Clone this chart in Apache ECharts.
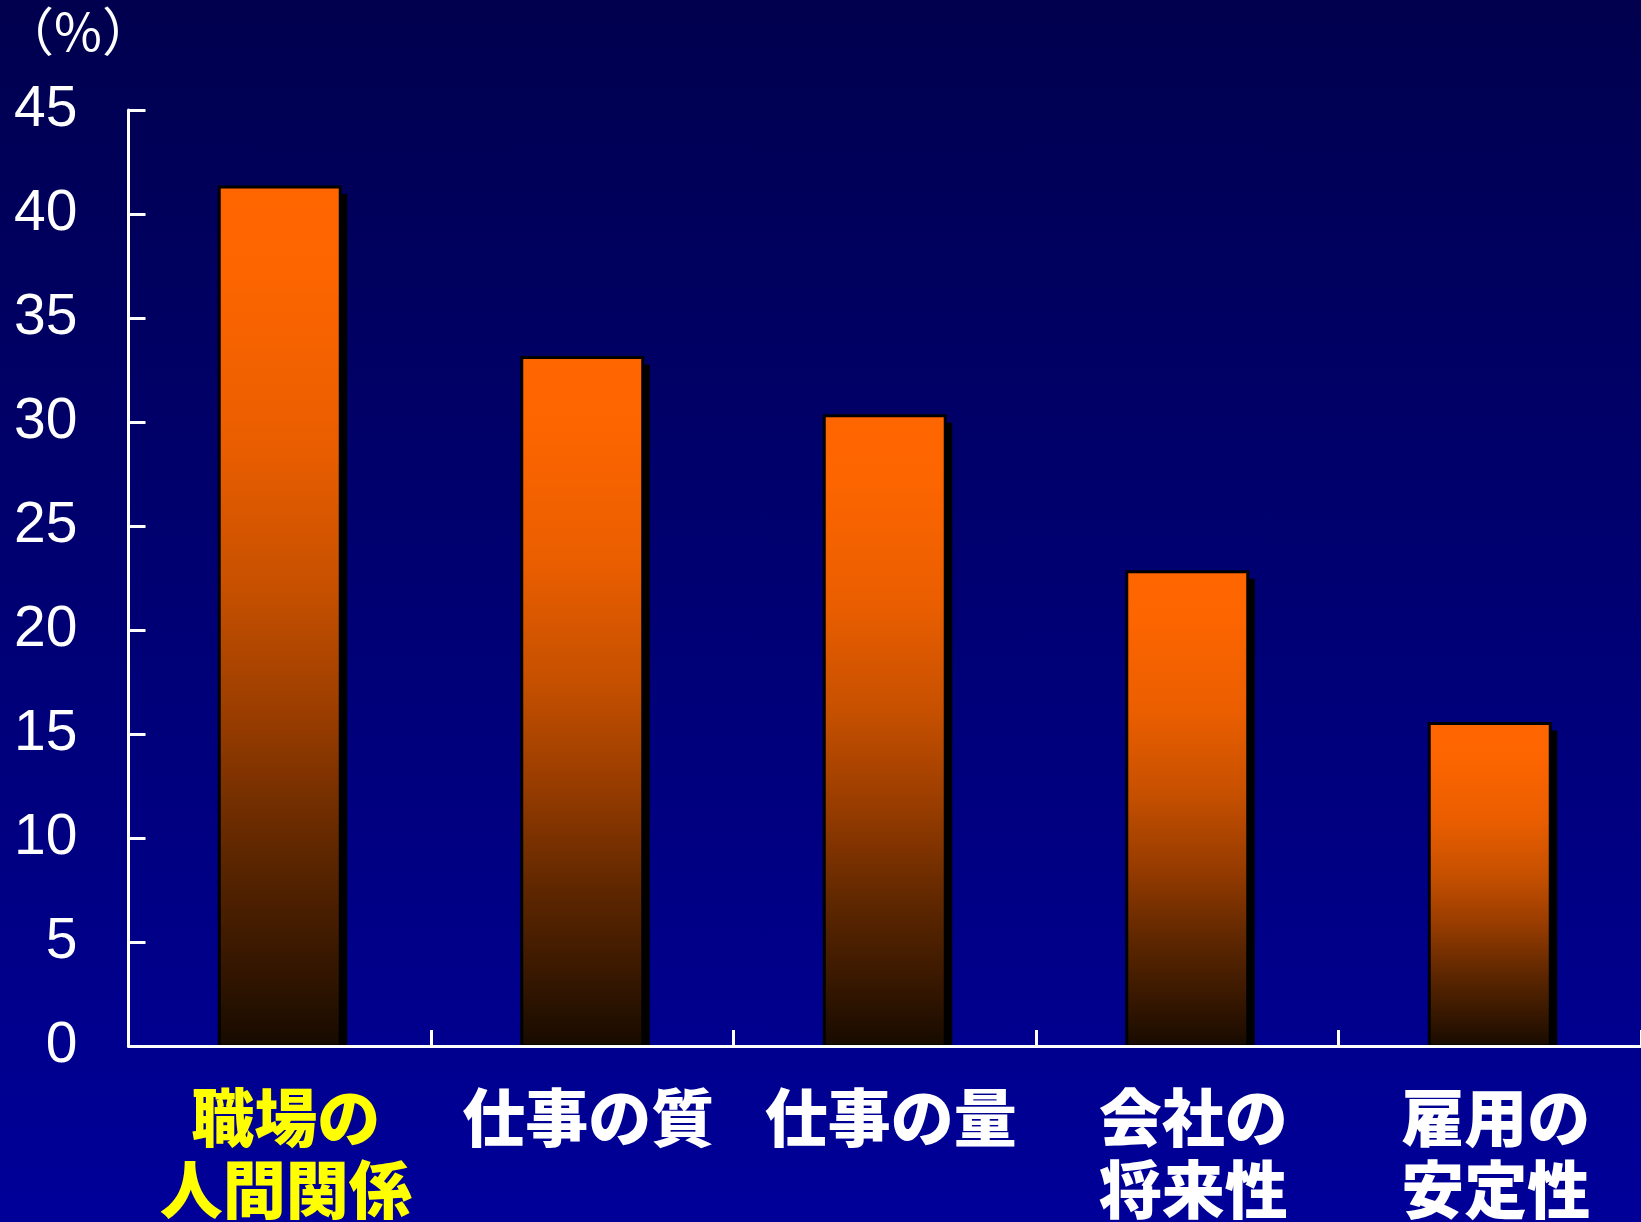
<!DOCTYPE html>
<html>
<head>
<meta charset="utf-8">
<script src="https://cdn.jsdelivr.net/npm/echarts@6/dist/echarts.min.js"></script>
<style>
  html, body { margin: 0; padding: 0; }
  body { background: linear-gradient(to bottom, #00004e 0%, #000099 100%); }
  #chart { width: 1641px; height: 1222px; }
</style>
</head>
<body>
<div id="chart"></div>
<script>
// Reasons cited for workplace stress (%)
const categories = ['職場の\n人間関係', '仕事の質', '仕事の量', '会社の\n将来性', '雇用の\n安定性'];
const values = [41.3, 33.1, 30.3, 22.8, 15.5];
const yTicks = [0, 5, 10, 15, 20, 25, 30, 35, 40, 45];
const unitLabel = '（%）';
const highlightColor = '#ffff00';

const chart = echarts.init(document.getElementById('chart'), null, { renderer: 'canvas' });

// Orange-to-dark fill for each bar
const barFill = new echarts.graphic.LinearGradient(0, 0, 0, 1, [
  { offset: 0.00, color: '#ff6600' },
  { offset: 0.10, color: '#fd6500' },
  { offset: 0.30, color: '#ea5e00' },
  { offset: 0.47, color: '#c65000' },
  { offset: 0.62, color: '#983c00' },
  { offset: 0.78, color: '#5c2600' },
  { offset: 0.94, color: '#2a1200' },
  { offset: 1.00, color: '#160a00' }
]);

const SHADOW = 7;

chart.setOption({
  backgroundColor: 'transparent',
  animation: false,
  grid: { left: 128.5, right: 0, top: 110, bottom: 176, containLabel: false, outerBoundsMode: 'none' },
  graphic: [{
    type: 'text',
    x: 78, y: 31,
    style: {
      text: unitLabel,
      fill: '#ffffff',
      font: '52px "Noto Sans CJK JP", sans-serif',
      align: 'center',
      verticalAlign: 'middle'
    }
  }],
  xAxis: {
    type: 'category',
    data: categories,
    z: 5,
    boundaryGap: true,
    axisLine: { lineStyle: { color: '#ffffff', width: 3 } },
    axisTick: { show: true, inside: true, length: 16, alignWithLabel: false, lineStyle: { color: '#ffffff', width: 3 } },
    axisLabel: {
      interval: 0,
      margin: 35,
      fontSize: 63,
      lineHeight: 72,
      padding: [0, 0, 0, 12],
      fontWeight: 900,
      fontFamily: '"Noto Sans CJK JP", sans-serif',
      color: (value, index) => (index === 0 ? highlightColor : '#ffffff'),
      textShadowColor: '#1a1a1a',
      textShadowOffsetX: 3,
      textShadowOffsetY: 3,
      textShadowBlur: 0
    },
    splitLine: { show: false }
  },
  yAxis: {
    type: 'value',
    min: yTicks[0],
    max: yTicks[yTicks.length - 1],
    interval: yTicks[1] - yTicks[0],
    z: 5,
    axisLine: { show: true, lineStyle: { color: '#ffffff', width: 3 } },
    axisTick: { show: true, inside: true, length: 17, lineStyle: { color: '#ffffff', width: 3 } },
    axisLabel: {
      margin: 51,
      fontSize: 57,
      color: '#ffffff',
      fontFamily: '"Liberation Sans", Arial, sans-serif'
    },
    splitLine: { show: false }
  },
  series: [{
    type: 'custom',
    z: 2,
    data: values.map((v, i) => [i, v]),
    encode: { x: 0, y: 1 },
    renderItem: (params, api) => {
      const idx = api.value(0);
      const val = api.value(1);
      const top = api.coord([idx, val]);
      const base = api.coord([idx, 0]);
      const band = api.size([1, 0])[0];
      const w = band * 0.4;
      const x = top[0] - w / 2;
      const h = base[1] - top[1];
      return {
        type: 'group',
        children: [
          {
            type: 'rect',
            shape: { x: x + SHADOW, y: top[1] + SHADOW, width: w, height: h - SHADOW },
            style: { fill: '#000000' }
          },
          {
            type: 'rect',
            shape: { x: x, y: top[1], width: w, height: h },
            style: { fill: barFill, stroke: '#000000', lineWidth: 3 }
          }
        ]
      };
    }
  }]
});
</script>
</body>
</html>
